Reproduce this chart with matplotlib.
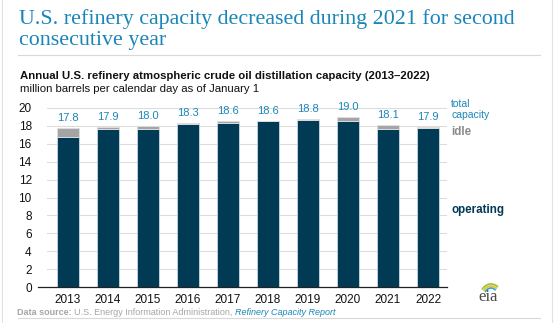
import matplotlib.pyplot as plt
from matplotlib.patches import Arc

years = ["2013", "2014", "2015", "2016", "2017", "2018", "2019", "2020", "2021", "2022"]
total = [17.8, 17.9, 18.0, 18.3, 18.6, 18.6, 18.8, 19.0, 18.1, 17.9]
operating = [16.8, 17.7, 17.7, 18.2, 18.3, 18.5, 18.7, 18.5, 17.7, 17.8]
idle = [t - o for t, o in zip(total, operating)]

DARK = "#003a54"
GREY = "#a5a5a5"
BLUE = "#1a86b8"
W, H = 555, 323


def fx(px):
    return px / W


def fy(py):
    return 1 - py / H


fig = plt.figure(figsize=(W / 100, H / 100), dpi=100)
fig.patch.set_facecolor("white")

# frame lines
fig.add_artist(plt.Line2D([fx(2), fx(2)], [0, 1], color="#e2e2e2", lw=0.8))
fig.add_artist(plt.Line2D([fx(552), fx(552)], [0, 1], color="#e2e2e2", lw=0.8))
fig.add_artist(plt.Line2D([fx(18), fx(540)], [fy(55), fy(55)], color="#d9d9d9", lw=0.8))
fig.add_artist(plt.Line2D([fx(18), fx(540)], [fy(318), fy(318)], color="#d9d9d9", lw=0.8))

# titles
fig.text(fx(19), fy(24), "U.S. refinery capacity decreased during 2021 for second",
         family="Liberation Serif", fontsize=15.8, color=BLUE, va="baseline")
fig.text(fx(19), fy(45), "consecutive year",
         family="Liberation Serif", fontsize=15.8, color=BLUE, va="baseline")
fig.text(fx(20), fy(79.5), "Annual U.S. refinery atmospheric crude oil distillation capacity (2013\u20132022)",
         family="Liberation Sans", fontsize=8.2, weight="bold", color="#111111", va="baseline")
fig.text(fx(20), fy(92), "million barrels per calendar day as of January 1",
         family="Liberation Sans", fontsize=8.2, color="#111111", va="baseline")

ax = fig.add_axes([fx(47), fy(287), fx(447) - fx(47), (287 - 108) / H])
x = range(len(years))
ax.bar(x, operating, width=0.56, color=DARK, edgecolor="#c9d8df", linewidth=0.6, zorder=3)
ax.bar(x, idle, bottom=operating, width=0.56, color=GREY, edgecolor="#e0e0e0", linewidth=0.6, zorder=3)
for i, t in enumerate(total):
    ax.text(i, t + 0.55, f"{t:.1f}", ha="center", va="bottom", fontsize=8,
            family="Liberation Sans", color=BLUE)

ax.set_ylim(0, 20)
ax.set_xlim(-0.525, 9.475)
ax.set_yticks(range(0, 21, 2))
ax.set_xticks(list(x))
ax.set_xticklabels(years)
ax.grid(axis="y", color="#dcdcdc", lw=0.8, zorder=0)
for s in ["top", "right", "left", "bottom"]:
    ax.spines[s].set_visible(False)
ax.tick_params(length=0, labelsize=8.5, colors="#111111", pad=5)
ax.tick_params(axis="y", pad=11)
for lab in ax.get_xticklabels() + ax.get_yticklabels():
    lab.set_family("Liberation Sans")
# baseline extends a little left of the plot area
fig.add_artist(plt.Line2D([fx(38), fx(447)], [fy(287), fy(287)], color="#222222", lw=0.9, zorder=5))

# right-side labels
fig.text(fx(451), fy(107), "total", fontsize=7.5, family="Liberation Sans", color=BLUE, va="baseline")
fig.text(fx(451), fy(118), "capacity", fontsize=7.5, family="Liberation Sans", color=BLUE, va="baseline")
fig.text(fx(451), fy(135), "idle", fontsize=8.4, family="Liberation Sans", weight="bold", color="#8c8c8c", va="baseline")
fig.text(fx(451), fy(213), "operating", fontsize=8.4, family="Liberation Sans", weight="bold", color=DARK, va="baseline")

# footer, pieces placed one after another
fig.canvas.draw()
r = fig.canvas.get_renderer()
xpos = 17
for txt, kw in [("Data source: ", dict(weight="bold", color="#a6a6a6")),
                ("U.S. Energy Information Administration, ", dict(color="#a6a6a6")),
                ("Refinery Capacity Report", dict(style="italic", color=BLUE))]:
    t = fig.text(fx(xpos), fy(315), txt, fontsize=6.5, family="Liberation Sans", va="baseline", **kw)
    xpos += t.get_window_extent(r).width

# eia logo
lax = fig.add_axes([fx(475), fy(305), 28 / W, 26 / H])
lax.set_xlim(0, 28)
lax.set_ylim(0, 26)
lax.axis("off")
lax.text(13, 4, "eia", ha="center", va="baseline", family="Liberation Serif", fontsize=12, color="#4a4a4a")
lax.add_patch(Arc((16, 8), 22, 26, theta1=55, theta2=140, color="#8cc63f", lw=1.2))
lax.add_patch(Arc((16, 8), 18, 22, theta1=55, theta2=140, color="#fdb913", lw=1.2))
lax.add_patch(Arc((16, 8), 14, 18, theta1=55, theta2=140, color="#29a8e0", lw=1.2))

fig.savefig("out.png", dpi=100)
